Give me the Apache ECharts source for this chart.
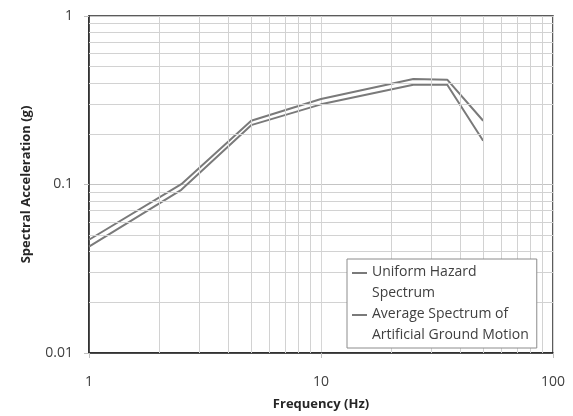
<!DOCTYPE html>
<html>
<head>
<meta charset="utf-8">
<script src="https://cdn.jsdelivr.net/npm/echarts@6/dist/echarts.min.js"></script>
<style>
html,body{margin:0;padding:0;background:#fff;}
#chart{width:573px;height:416px;}
</style>
</head>
<body>
<div id="chart"></div>
<script>
// frequency points (Hz) and spectral acceleration (g)
var freq = [1, 2.5, 5, 10, 25, 35, 50];
var uhs = [0.047, 0.1005, 0.239, 0.322, 0.423, 0.419, 0.239];
var avgArtificial = [0.0428, 0.093, 0.225, 0.299, 0.391, 0.391, 0.182];
var seriesNames = ['Uniform Hazard Spectrum', 'Average Spectrum of Artificial Ground Motion'];
var legendText = ['Uniform Hazard\nSpectrum', 'Average Spectrum of\nArtificial Ground Motion'];
var xTicks = [1, 10, 100];
var xTickLabels = ['1', '10', '100'];
var yTicks = [0.01, 0.1, 1];
var yTickLabels = ['0.01', '0.1', '1'];

// minor grid values inside each decade
var xMinor = [], yMinor = [];
for (var d = 0; d < 2; d++) {
    for (var k = 2; k <= 9; k++) {
        xMinor.push(k * Math.pow(10, d));
        yMinor.push(k * Math.pow(10, d - 2));
    }
}

function pickLabel(v, ticks, labels) {
    var best = 0;
    for (var i = 0; i < ticks.length; i++) {
        if (Math.abs(Math.log10(v) - Math.log10(ticks[i])) < Math.abs(Math.log10(v) - Math.log10(ticks[best]))) best = i;
    }
    return labels[best];
}

function pairs(xs, ys) {
    return xs.map(function (x, i) { return [x, ys[i]]; });
}

var lineColor = '#7a7a7a';
var font = '"Open Sans", sans-serif';

var minorLines = xMinor.map(function (v) { return {xAxis: v}; })
    .concat(yMinor.map(function (v) { return {yAxis: v}; }));

var chart = echarts.init(document.getElementById('chart'));
var option = {
    animation: false,
    grid: {
        left: 89,
        right: 20,
        top: 16,
        bottom: 63,
        show: true,
        borderColor: '#262626',
        borderWidth: 1.5
    },
    legend: {
        data: seriesNames,
        orient: 'vertical',
        left: 347,
        top: 259,
        z: 10,
        padding: [3, 8, 2, 5],
        itemGap: 0,
        itemWidth: 15,
        itemHeight: 42,
        icon: 'path://M0,0M0,10L15,10L15,12L0,12ZM15,42',
        itemStyle: {borderWidth: 0},
        borderColor: '#8c8c8c',
        borderWidth: 1,
        backgroundColor: '#fff',
        formatter: function (name) {
            return legendText[seriesNames.indexOf(name)];
        },
        textStyle: {
            fontFamily: font,
            fontSize: 14,
            lineHeight: 21,
            color: '#404040'
        }
    },
    xAxis: {
        type: 'log',
        logBase: 10,
        min: 1,
        max: 100,
        name: 'Frequency (Hz)',
        nameLocation: 'middle',
        nameGap: 45,
        nameTextStyle: {fontFamily: font, fontSize: 13, fontWeight: 'bold', color: '#262626'},
        axisLine: {show: true, lineStyle: {color: '#262626', width: 1.5}},
        axisTick: {show: true, length: 5, lineStyle: {color: '#c0c0c0'}},
        axisLabel: {
            margin: 22,
            fontFamily: font,
            fontSize: 14,
            color: '#404040',
            formatter: function (v) { return pickLabel(v, xTicks, xTickLabels); }
        },
        splitLine: {show: true, lineStyle: {color: '#d6d6d6', width: 1}}
    },
    yAxis: {
        type: 'log',
        logBase: 10,
        min: 0.01,
        max: 1,
        name: 'Spectral Acceleration (g)',
        nameLocation: 'middle',
        nameGap: 56,
        nameTextStyle: {fontFamily: font, fontSize: 13, fontWeight: 'bold', color: '#262626'},
        axisLine: {show: true, lineStyle: {color: '#262626', width: 1.5}},
        axisTick: {show: true, length: 5, lineStyle: {color: '#c0c0c0'}},
        axisLabel: {
            margin: 16,
            fontFamily: font,
            fontSize: 14,
            color: '#404040',
            formatter: function (v) { return pickLabel(v, yTicks, yTickLabels); }
        },
        splitLine: {show: true, lineStyle: {color: '#c4c4c4', width: 1}}
    },
    series: [
        {
            name: 'minor grid',
            type: 'line',
            data: [],
            z: 1,
            silent: true,
            markLine: {
                silent: true,
                symbol: 'none',
                label: {show: false},
                lineStyle: {type: 'solid', color: '#d2d2d2', width: 1},
                data: minorLines
            }
        },
        {
            name: seriesNames[0],
            type: 'line',
            data: pairs(freq, uhs),
            showSymbol: false,
            symbol: 'none',
            color: lineColor,
            lineStyle: {color: lineColor, width: 2}
        },
        {
            name: seriesNames[1],
            type: 'line',
            data: pairs(freq, avgArtificial),
            showSymbol: false,
            symbol: 'none',
            color: lineColor,
            lineStyle: {color: lineColor, width: 2}
        }
    ]
};
chart.setOption(option);
window.addEventListener('resize', function () {
    chart.resize();
});
</script>
</body>
</html>
